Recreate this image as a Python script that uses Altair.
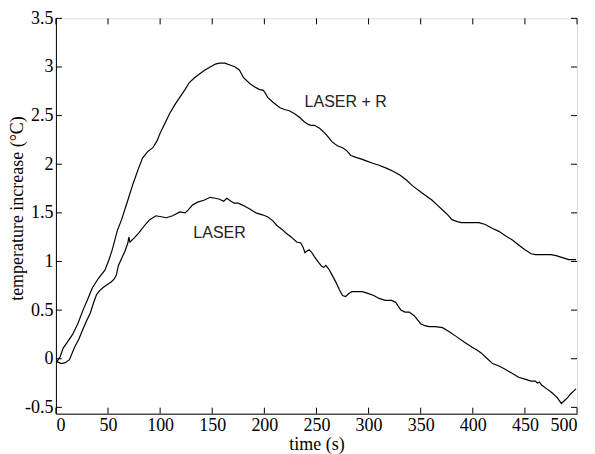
import altair as alt
import pandas as pd

# LASER + R series
t_lr = [1,4,7,11,16,21,26,30,35,41,
        47,51,54,59,63,69,74,79,83,88,
        93,97,100,105,109,114,119,124,128,133,
        138,143,148,153,157,162,167,172,176,178,
        180,186,190,195,199,201,203,208,215,220,
        224,229,234,238,242,245,248,253,258,262,
        265,270,275,279,283,288,294,299,304,310,
        317,323,330,336,342,352,361,366,371,376,
        380,385,389,397,406,412,419,425,432,438,
        444,450,456,460,464,470,475,480,486,492,
        499]
v_lr = [-0.03,0.02,0.11,0.17,0.25,0.36,0.50,0.60,0.73,0.83,
        0.91,1.02,1.12,1.32,1.43,1.63,1.80,1.95,2.06,2.13,
        2.17,2.24,2.32,2.43,2.52,2.61,2.69,2.77,2.84,2.89,
        2.93,2.97,3.00,3.03,3.04,3.04,3.02,3.00,2.97,2.93,
        2.89,2.83,2.80,2.77,2.76,2.73,2.69,2.64,2.58,2.56,
        2.55,2.52,2.48,2.44,2.41,2.40,2.40,2.37,2.32,2.27,
        2.23,2.19,2.17,2.14,2.09,2.07,2.05,2.03,2.01,1.99,
        1.96,1.93,1.89,1.84,1.78,1.70,1.63,1.58,1.53,1.48,
        1.43,1.41,1.40,1.40,1.40,1.38,1.34,1.31,1.26,1.22,
        1.17,1.12,1.08,1.07,1.07,1.07,1.07,1.06,1.04,1.02,
        1.02]

# LASER series
t_l = [1,5,9,13,18,22,25,29,33,36,
       39,42,45,49,53,56,58,60,63,66,
       69,70,71,75,80,85,90,96,101,106,
       112,119,124,127,131,136,142,148,153,157,
       161,164,168,171,175,179,186,192,198,203,
       208,212,217,221,226,231,235,237,239,240,
       243,245,248,252,255,257,259,262,265,269,
       272,275,278,281,284,289,294,300,305,310,
       316,322,326,331,335,339,344,350,354,358,
       364,371,377,384,392,399,404,408,414,419,
       424,428,436,444,450,456,460,462,464,466,
       471,476,481,485,488,491,494,497,499]
v_l = [-0.03,-0.05,-0.04,-0.01,0.12,0.20,0.28,0.38,0.47,0.57,
       0.66,0.70,0.73,0.76,0.79,0.82,0.86,0.96,1.03,1.10,
       1.19,1.25,1.20,1.24,1.30,1.37,1.43,1.47,1.46,1.45,
       1.47,1.51,1.50,1.53,1.58,1.61,1.63,1.66,1.65,1.64,
       1.62,1.65,1.62,1.60,1.60,1.58,1.54,1.50,1.48,1.46,
       1.42,1.37,1.33,1.29,1.25,1.20,1.19,1.15,1.09,1.10,
       1.12,1.10,1.05,0.99,0.95,0.94,0.96,0.92,0.86,0.78,
       0.71,0.65,0.64,0.67,0.69,0.69,0.69,0.67,0.65,0.62,
       0.60,0.60,0.58,0.50,0.48,0.48,0.44,0.36,0.34,0.33,
       0.33,0.32,0.28,0.23,0.17,0.12,0.09,0.06,0.00,-0.05,
       -0.07,-0.09,-0.14,-0.19,-0.21,-0.23,-0.23,-0.25,-0.24,-0.27,
       -0.31,-0.35,-0.40,-0.46,-0.43,-0.40,-0.36,-0.33,-0.31]

x_ticks = [0, 50, 100, 150, 200, 250, 300, 350, 400, 450, 500]
y_ticks = [-0.5, 0, 0.5, 1, 1.5, 2, 2.5, 3, 3.5]

label_text = ["LASER + R", "LASER"]
label_t = [278, 157]
label_v = [2.64, 1.29]

W, H = 522, 396
TL = 6

df = pd.concat([
    pd.DataFrame({"t": t_lr, "v": v_lr, "series": "LASER + R"}),
    pd.DataFrame({"t": t_l, "v": v_l, "series": "LASER"}),
])
lab = pd.DataFrame({"t": label_t, "v": label_v, "text": label_text})
xt = pd.DataFrame({"t": x_ticks})
yt = pd.DataFrame({"v": y_ticks})

xscale = alt.Scale(domain=[0, 500], nice=False, zero=False)
yscale = alt.Scale(domain=[-0.565, 3.5], nice=False, zero=False)

xaxis = alt.Axis(values=x_ticks, tickSize=0, labelPadding=3, grid=False,
                 title="time (s)", titleY=31, titleBaseline="middle",
                 labelFont="Liberation Serif", labelFontSize=18,
                 titleFont="Liberation Serif", titleFontSize=18, titleFontWeight="normal",
                 labelColor="black", titleColor="black", domainColor="black")
yaxis = alt.Axis(values=y_ticks, tickSize=0, labelPadding=3, grid=False,
                 labelExpr="'' + datum.value",
                 title="temperature increase (°C)", titleX=-38, titleY=190,
                 titleAngle=-90, titleBaseline="middle", titleAlign="center",
                 labelFont="Liberation Serif", labelFontSize=18,
                 titleFont="Liberation Serif", titleFontSize=18, titleFontWeight="normal",
                 labelColor="black", titleColor="black", domainColor="black")

lines = alt.Chart(df).mark_line(color="black", strokeWidth=1.2).encode(
    x=alt.X("t:Q", scale=xscale, axis=xaxis),
    y=alt.Y("v:Q", scale=yscale, axis=yaxis),
    detail="series:N",
    order="t:Q",
)

texts = alt.Chart(lab).mark_text(font="Liberation Sans", fontSize=16, color="#222222",
                                 align="center", baseline="middle").encode(
    x=alt.X("t:Q", scale=xscale),
    y=alt.Y("v:Q", scale=yscale),
    text="text:N",
)

bt = alt.Chart(xt).mark_rule(color="black", strokeWidth=1).encode(
    x=alt.X("t:Q", scale=xscale), y=alt.value(H), y2=alt.value(H - TL))
tt = alt.Chart(xt).mark_rule(color="black", strokeWidth=1).encode(
    x=alt.X("t:Q", scale=xscale), y=alt.value(0), y2=alt.value(TL))
lt = alt.Chart(yt).mark_rule(color="black", strokeWidth=1).encode(
    y=alt.Y("v:Q", scale=yscale), x=alt.value(0), x2=alt.value(TL))
rt = alt.Chart(yt).mark_rule(color="black", strokeWidth=1).encode(
    y=alt.Y("v:Q", scale=yscale), x=alt.value(W), x2=alt.value(W - TL))

chart = alt.layer(lines, texts, bt, tt, lt, rt).properties(
    width=W, height=H, autosize="none",
    padding={"left": 48, "top": 10, "right": 10, "bottom": 40},
).configure_view(stroke="black", strokeWidth=1).configure(background="white")

chart.save("out.html", embed_options={"renderer": "svg", "actions": False})
